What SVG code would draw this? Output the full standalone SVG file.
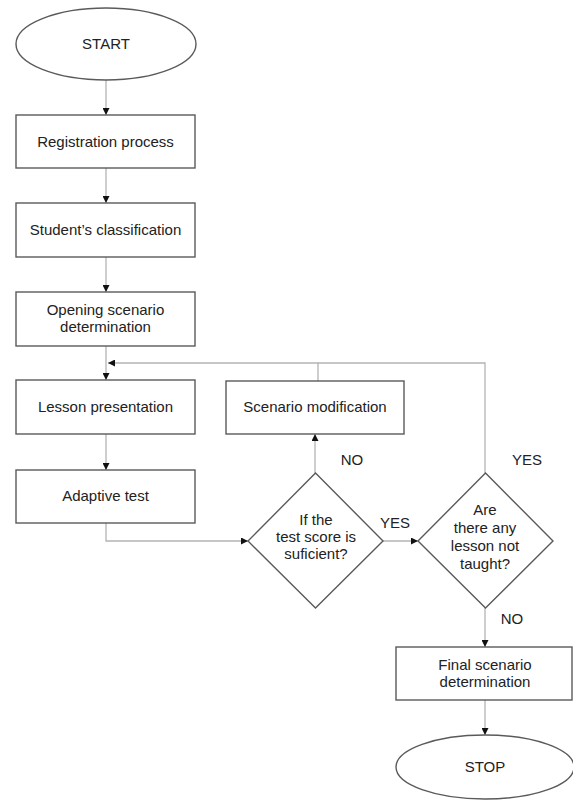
<svg xmlns="http://www.w3.org/2000/svg" width="573" height="802" viewBox="0 0 573 802">
<style>
.n{fill:#fff;stroke:#5a5a5a;stroke-width:1.4}
.c{fill:none;stroke:#b4b4b4;stroke-width:1.3}
.t{font-family:"Liberation Sans",Arial,sans-serif;font-size:15px;fill:#222;text-anchor:middle}
</style>
<defs>
<marker id="a" viewBox="0 0 10 10" refX="10" refY="5" markerWidth="7" markerHeight="7" markerUnits="userSpaceOnUse" orient="auto">
<path d="M0,0 L10,5 L0,10 z" fill="#111"/>
</marker>
</defs>
<rect width="573" height="802" fill="#fff"/>
<g id="connectors">
<path class="c" d="M106,80 V115" marker-end="url(#a)"/>
<path class="c" d="M106,168 V203" marker-end="url(#a)"/>
<path class="c" d="M106,257 V292" marker-end="url(#a)"/>
<path class="c" d="M106,346 V380" marker-end="url(#a)"/>
<path class="c" d="M318,381 V363 H108" marker-end="url(#a)"/>
<path class="c" d="M485,473 V363 H318"/>
<path class="c" d="M106,434 V470" marker-end="url(#a)"/>
<path class="c" d="M106,523 V541 H248" marker-end="url(#a)"/>
<path class="c" d="M315,473 V434" marker-end="url(#a)"/>
<path class="c" d="M383,541 H418" marker-end="url(#a)"/>
<path class="c" d="M485,608 V647" marker-end="url(#a)"/>
<path class="c" d="M485,700 V735" marker-end="url(#a)"/>
</g>
<g id="start"><ellipse class="n" cx="106" cy="44" rx="90" ry="36"/><text class="t" x="106" y="49">START</text></g>
<g id="registration"><rect class="n" x="16" y="115" width="179" height="53"/><text class="t" x="105.5" y="147">Registration process</text></g>
<g id="classification"><rect class="n" x="16" y="203" width="179" height="54"/><text class="t" x="105.5" y="235">Student’s classification</text></g>
<g id="opening"><rect class="n" x="16" y="292" width="179" height="54"/><text class="t" x="105.5" y="315">Opening scenario</text><text class="t" x="105.5" y="332">determination</text></g>
<g id="lesson"><rect class="n" x="16" y="380" width="179" height="54"/><text class="t" x="105.5" y="412">Lesson presentation</text></g>
<g id="adaptive"><rect class="n" x="16" y="470" width="179" height="53"/><text class="t" x="105.5" y="501">Adaptive test</text></g>
<g id="modification"><rect class="n" x="226" y="381" width="178" height="53"/><text class="t" x="315" y="412">Scenario modification</text></g>
<g id="score"><path class="n" d="M315.5,473 L383,541 L315.5,608 L248,541 Z"/><text class="t" x="316" y="525">If the</text><text class="t" x="316" y="542">test score is</text><text class="t" x="316" y="559">suficient?</text></g>
<g id="lessons"><path class="n" d="M485.5,473 L553,541 L485.5,608 L418,541 Z"/><text class="t" x="485" y="515">Are</text><text class="t" x="485" y="533">there any</text><text class="t" x="485" y="551">lesson not</text><text class="t" x="485" y="569">taught?</text></g>
<g id="final"><rect class="n" x="396" y="647" width="176" height="53"/><text class="t" x="485" y="670">Final scenario</text><text class="t" x="485" y="687">determination</text></g>
<g id="stop"><ellipse class="n" cx="485" cy="767" rx="89" ry="32"/><text class="t" x="485" y="772">STOP</text></g>
<g id="labels">
<text class="t" x="352" y="465">NO</text>
<text class="t" x="527" y="465">YES</text>
<text class="t" x="395" y="528">YES</text>
<text class="t" x="512" y="624">NO</text>
</g>
</svg>
